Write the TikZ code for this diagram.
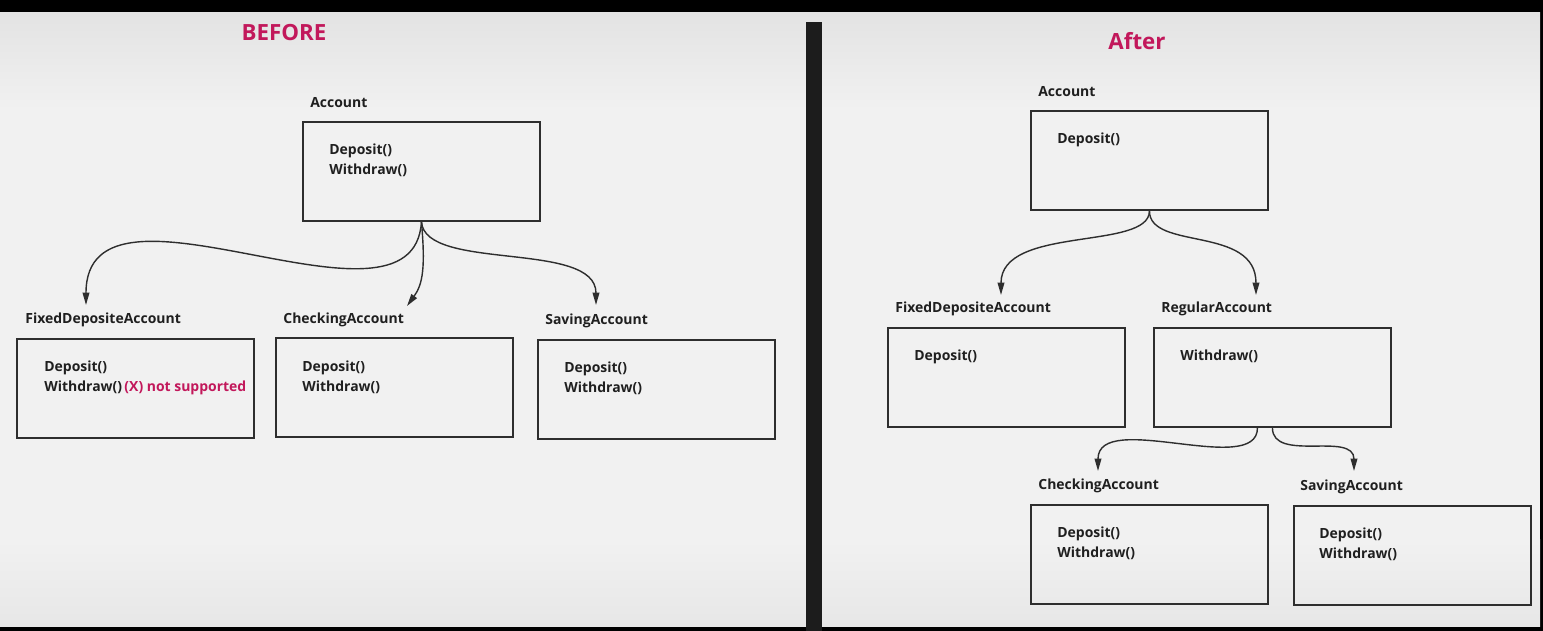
\documentclass[tikz,border=0pt]{standalone}
\usepackage{fontspec}
\setmainfont{Open Sans}
\usetikzlibrary{arrows.meta,positioning}
\definecolor{TitleRed}{HTML}{C2185B}
\definecolor{LineGray}{HTML}{2E2E2E}
\definecolor{PanelTop}{HTML}{E3E3E3}
\definecolor{PanelMid}{HTML}{F1F1F1}
\definecolor{PanelBot}{HTML}{E7E7E7}
\definecolor{Divider}{HTML}{1C1C1C}

\tikzset{
  classbox/.style={draw=LineGray, line width=1.1pt, minimum width=4.74cm,
                   minimum height=1.98cm, inner sep=0pt, anchor=north west},
  classname/.style={font=\fontsize{7.95}{10}\selectfont\bfseries,
                    text=black!88, anchor=west, inner sep=0pt, yshift=-0.035cm},
  methods/.style={font=\fontsize{7.95}{11.3}\selectfont\bfseries,
                  text=black!88, anchor=north west, align=left, inner sep=0pt},
  inherit/.style={-{Triangle[length=7pt,width=3.8pt]}, draw=LineGray,
                  line width=0.8pt},
  heading/.style={font=\fontsize{12.7}{14}\selectfont\bfseries, text=TitleRed},
}

\begin{document}
\begin{tikzpicture}[x=0.02cm, y=-0.02cm]
  % Screen frame, two panels and the divider
  \fill[black] (0,0) rectangle (1543,631);
  \fill[PanelMid] (0,13) rectangle (1540,627);
  \shade[top color=PanelTop, bottom color=PanelMid] (0,13) rectangle (1540,110);
  \shade[top color=PanelMid, bottom color=PanelBot] (0,540) rectangle (1540,627);
  \fill[Divider] (806,22) rectangle (822,631);
  \useasboundingbox (0,0) rectangle (1543,631);

  % Headings
  \node[heading] (before) at (284,33) {BEFORE};
  \node[heading] (after) at (1137,41) {After};

  %% BEFORE
  \node[classname] (accL) at (310,101) {Account};
  \node[classbox] (accB) at (302,121) {};
  \node[methods] (accM) at (329,144) {Deposit()\\Withdraw()};

  \node[classname] (fdaL) at (25,318) {FixedDepositeAccount};
  \node[classbox] (fdaB) at (16,338) {};
  \node[methods] (fdaM) at (44,361)
    {Deposit()\\Withdraw()\,\textcolor{TitleRed}{(X) not supported}};

  \node[classname] (chkL) at (283,318) {CheckingAccount};
  \node[classbox] (chkB) at (275,337) {};
  \node[methods] (chkM) at (302,361) {Deposit()\\Withdraw()};

  \node[classname] (savL) at (545,319) {SavingAccount};
  \node[classbox] (savB) at (537,339) {};
  \node[methods] (savM) at (564,362) {Deposit()\\Withdraw()};

  % arrow tips sit just above the class names
  \coordinate (fdaIn) at (86,305);
  \coordinate (chkIn) at (407,306);
  \coordinate (savIn) at (596,305);
  \draw[inherit] (accB.south) .. controls +(-8,130) and +(0,-150) .. (fdaIn);
  \draw[inherit] (accB.south) .. controls +(4,45) and +(16,-22) .. (chkIn);
  \draw[inherit] (accB.south) .. controls +(4,50) and +(0,-65) .. (savIn);

  %% After
  \node[classname] (accL2) at (1038,90) {Account};
  \node[classbox] (accB2) at (1030,110) {};
  \node[methods] (accM2) at (1057,133) {Deposit()};

  \node[classname] (fdaL2) at (895,307) {FixedDepositeAccount};
  \node[classbox] (fdaB2) at (887,327) {};
  \node[methods] (fdaM2) at (914,350) {Deposit()};

  \node[classname] (regL) at (1161,307) {RegularAccount};
  \node[classbox] (regB) at (1153,327) {};
  \node[methods] (regM) at (1180,350) {Withdraw()};

  \node[classname] (chkL2) at (1038,484) {CheckingAccount};
  \node[classbox] (chkB2) at (1030,504) {};
  \node[methods] (chkM2) at (1057,527) {Deposit()\\Withdraw()};

  \node[classname] (savL2) at (1300,485) {SavingAccount};
  \node[classbox] (savB2) at (1293,505) {};
  \node[methods] (savM2) at (1319,528) {Deposit()\\Withdraw()};

  \coordinate (fdaIn2) at (1001,295);
  \coordinate (regIn) at (1256,295);
  \coordinate (chkIn2) at (1098,471);
  \coordinate (savIn2) at (1354,471);
  \draw[inherit] (accB2.south) .. controls +(0,40) and +(0,-70) .. (fdaIn2);
  \draw[inherit] (accB2.south) .. controls +(0,40) and +(0,-70) .. (regIn);
  \draw[inherit] ([xshift=-0.3cm]regB.south)
    .. controls +(0,50) and +(0,-62) .. (chkIn2);
  \draw[inherit] (regB.south) .. controls +(0,35) and +(0,-40) .. (savIn2);
\end{tikzpicture}
\end{document}
